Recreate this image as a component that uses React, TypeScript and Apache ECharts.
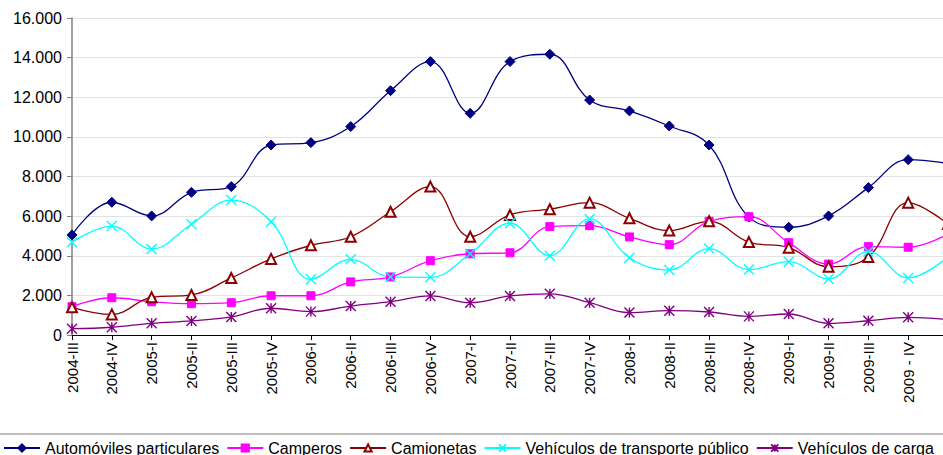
import React, { useEffect, useRef } from "react";
import * as echarts from "echarts";

const categories = [
  "2004-III", "2004-IV", "2005-I", "2005-II", "2005-III", "2005-IV",
  "2006-I", "2006-II", "2006-III", "2006-IV", "2007-I", "2007-II",
  "2007-III", "2007-IV", "2008-I", "2008-II", "2008-III", "2008-IV",
  "2009-I", "2009-II", "2009-III", "2009 - IV", "2010-I",
];

const automoviles = [5050, 6700, 6010, 7200, 7490, 9590, 9710, 10520, 12330, 13800, 11190, 13800, 14170, 11860, 11310, 10550, 9590, 5950, 5440, 6010, 7440, 8850, 8660];
const camperos = [1430, 1880, 1680, 1580, 1630, 1980, 1980, 2680, 2930, 3750, 4100, 4150, 5470, 5520, 4950, 4560, 5740, 5970, 4660, 3580, 4460, 4430, 5100];
const camionetas = [1400, 1040, 1900, 2020, 2880, 3840, 4530, 4960, 6220, 7490, 4960, 6060, 6350, 6680, 5890, 5270, 5740, 4690, 4410, 3450, 3940, 6680, 5600];
const transporte = [4680, 5500, 4340, 5590, 6810, 5720, 2810, 3820, 2930, 2910, 4100, 5640, 4000, 5860, 3900, 3280, 4360, 3300, 3700, 2830, 4210, 2880, 3950];
const carga = [320, 390, 590, 710, 910, 1350, 1180, 1460, 1680, 1970, 1630, 1970, 2080, 1630, 1130, 1230, 1160, 940, 1060, 590, 720, 890, 780];

const FONT = "'Liberation Sans', Arial, sans-serif";
const X_PATH = "path://M0,0L10,10M10,0L0,10";
const STAR_PATH = "path://M0,0L10,10M10,0L0,10M5,0L5,10";

function fmt(v: number) {
  return String(v).replace(/\B(?=(\d{3})+(?!\d))/g, ".");
}

export default function App() {
  const ref = useRef<HTMLDivElement>(null);
  useEffect(() => {
    if (!ref.current) return;
    const chart = echarts.init(ref.current, undefined, { renderer: "svg" });
    const mk = (name: string, data: number[], color: string, symbol: string, size: number, bw = 1) => ({
      name,
      type: "line",
      data,
      smooth: 0.4,
      symbol,
      symbolSize: size,
      lineStyle: { color, width: 1.3 },
      itemStyle: { color, borderColor: color, borderWidth: bw },
      z: 3,
    });
    chart.setOption({
      animation: false,
      backgroundColor: "#ffffff",
      textStyle: { fontFamily: FONT },
      grid: { left: 72, top: 18, width: 876, height: 317, containLabel: false, outerBoundsMode: "none" },
      legend: {
        left: -6,
        top: 434,
        width: 1100,
        padding: [6, 10, 6, 9],
        borderColor: "#7f7f7f",
        borderWidth: 1,
        itemWidth: 36,
        itemHeight: 9,
        itemGap: 7,
        textStyle: { fontFamily: FONT, fontSize: 16, color: "#000" },
        data: [
          "Automóviles particulares",
          "Camperos",
          "Camionetas",
          "Vehículos de transporte público",
          "Vehículos de carga",
        ],
      },
      xAxis: {
        type: "category",
        data: categories,
        boundaryGap: false,
        axisLine: { show: true, lineStyle: { color: "#000", width: 1 } },
        axisTick: { show: true, length: 5, lineStyle: { color: "#000" } },
        axisLabel: {
          interval: 0,
          rotate: 90,
          margin: 7,
          fontFamily: FONT,
          fontSize: 15,
          color: "#000",
        },
        splitLine: { show: false },
      },
      yAxis: {
        type: "value",
        min: 0,
        max: 16000,
        interval: 2000,
        axisLine: { show: true, lineStyle: { color: "#808080", width: 1.5 } },
        axisTick: { show: true, length: 5, lineStyle: { color: "#808080" } },
        axisLabel: {
          margin: 10,
          fontFamily: FONT,
          fontSize: 16,
          color: "#000",
          formatter: (v: number) => fmt(v),
        },
        splitLine: { show: true, lineStyle: { color: "#e2e2e2", width: 1 } },
      },
      series: [
        mk("Automóviles particulares", automoviles, "#000080", "diamond", 10),
        mk("Camperos", camperos, "#FF00FF", "rect", 8),
        mk("Camionetas", camionetas, "#8B0000", "emptyTriangle", 10, 1.2),
        mk("Vehículos de transporte público", transporte, "#00FFFF", X_PATH, 10, 1.4),
        mk("Vehículos de carga", carga, "#800080", STAR_PATH, 10, 1.4),
      ],
    });
    return () => chart.dispose();
  }, []);
  return (
    <div
      ref={ref}
      style={{ position: "fixed", left: 0, top: 0, width: 943, height: 455, background: "#fff" }}
    />
  );
}
